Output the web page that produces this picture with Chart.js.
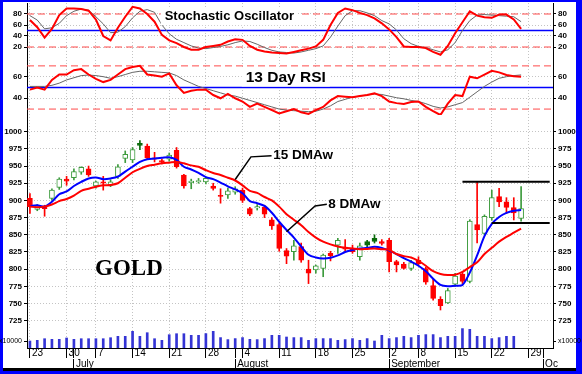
<!DOCTYPE html>
<html>
<head>
<meta charset="utf-8">
<title>Gold daily</title>
<script src="https://cdn.jsdelivr.net/npm/chart.js@4.4.0/dist/chart.umd.min.js"></script>
<style>
  html, body { margin: 0; padding: 0; background: #0000ff; }
  #wrap { width: 582px; height: 374px; }
</style>
</head>
<body>
<div id="wrap"><canvas id="gold" width="582" height="374"></canvas></div>
<script>
/* ─── Data (one entry per trading day, 23 Jun – 26 Sep) ─────────────────── */
const weekTickIdx    = [0, 5, 9, 14, 19, 24, 29, 34, 39, 44, 49, 53, 58, 63, 68];
const weekTickLabels = ['23', '30', '7', '14', '21', '28', '4', '11', '18', '25', '2', '8', '15', '22', '29'];
const monthTickIdx   = [6, 28, 49, 70];
const monthLabels    = ['July', 'August', 'September', 'Oc'];

const opens = [903, 887, 892, 903, 919, 931, 933, 941, 946, 921,
  927, 922, 935, 961, 959, 983, 979, 962, 958, 960,
  973, 937, 926, 927, 927, 921, 907, 908, 912, 915,
  888, 889, 890, 871.6, 865, 827, 825.5, 833, 800, 799,
  801, 823, 835, 832, 830, 818, 840, 845, 840, 842,
  811, 807.5, 801, 813, 801, 776, 756, 751, 778, 793,
  782, 865, 852, 875, 905.5, 898, 889.5, 874];
const highs = [910, 894, 893, 917, 933, 935, 946, 949, 950, 928,
  935, 930, 952, 972, 977, 987, 982, 970, 960, 969,
  977, 938, 931, 932, 934, 925, 917, 918, 920, 918,
  890, 894, 893, 875, 867, 830, 842, 838, 813, 806,
  822, 826, 845, 843, 835, 838, 842, 850, 843, 845,
  813, 810, 813, 818, 803, 786, 760, 772, 794, 796,
  872, 927, 879, 915, 917.6, 904, 904, 920];
const lows = [881, 885, 877, 900, 916, 922, 930, 938, 935, 918,
  915, 920, 932, 955, 955, 974, 960, 956, 953, 957,
  947, 918, 917, 925, 924, 915, 896, 903, 909, 897,
  878, 886, 875, 858, 826, 808, 813, 810, 779, 794,
  789, 812, 823, 825, 823, 813, 831, 838, 835, 796,
  796, 800, 798, 806, 778, 755, 740.6, 750, 775, 779,
  780, 838, 850, 871, 891, 881, 871.6, 870];
const closes = [891, 892, 888, 915, 931, 928, 942, 948, 937, 927,
  925, 927, 949, 967, 974, 980, 962, 960, 956, 966,
  949, 921, 928, 929, 932, 917.6, 906, 914, 917, 900,
  880, 891, 880, 863, 830, 819, 834, 813, 794, 805,
  820.6, 819.5, 842, 829, 825.5, 834, 835, 840.5, 837.6, 811,
  806, 801, 809.5, 807.5, 781, 757.6, 747, 768.7, 790, 782,
  870, 857, 877, 904, 898, 890, 882, 888];

const ma8 = [892, 893, 891, 898, 909, 913, 921, 927, 932, 933.5,
  931, 932, 934.6, 942, 949, 956, 960, 961, 962, 962.7,
  959, 949, 945, 940, 934, 931, 926, 920.5, 916, 910.5,
  899, 896, 892, 882, 869, 857, 846, 833, 821, 817,
  815.5, 816.5, 820, 825, 828, 830, 831, 832.5, 831, 827,
  822, 816, 811, 805, 797, 786, 777, 775, 776, 777,
  795, 820, 848, 866, 876, 882, 885, 886];
const ma15 = [891, 890, 891, 894, 899, 902, 907, 914, 917, 920,
  922, 922.5, 925, 933, 941, 946, 950, 952, 954, 955,
  956, 954, 951, 949, 944, 940, 937, 933, 929, 922,
  914, 911, 905, 900, 891, 880, 872, 864, 854, 846,
  840, 836, 833, 831, 830, 829, 829.5, 830, 829, 828,
  822, 819, 817, 812, 805, 797, 793, 791.5, 792, 796,
  803, 810, 822, 831, 840, 847, 853, 859];

const stochK = [69, 56, 37, 53, 78, 90, 90, 89, 86, 70,
  40, 32, 55, 75, 93, 90, 80, 66, 42, 32,
  27, 20, 15, 15, 20, 22, 24, 30, 34, 33,
  22, 15, 12, 10, 9, 8, 11, 14, 17, 21,
  33, 60, 82, 90, 87, 82, 78, 72, 63, 52,
  38, 21, 20, 20, 18, 11, 6, 22, 45, 65,
  85, 77, 74, 73, 79, 79, 70, 53];
const stochD = [77, 69, 53, 55, 63, 77, 85, 89, 87, 75,
  62, 46, 47, 57, 73, 85, 88, 83, 60, 44,
  34, 28, 22, 18, 17, 19, 21, 24, 28, 31,
  30, 25, 19, 14, 11, 10, 9, 11, 14, 17,
  22, 38, 58, 77, 86, 86, 82, 77, 68, 62,
  51, 35, 26, 21, 19, 15, 11, 15, 28, 50,
  68, 78, 79, 78, 77, 76, 75, 66];

const rsi = [48, 50, 48, 57, 62, 62, 66, 67, 62, 58,
  55, 57, 62, 67, 69, 70, 62, 61, 60, 63,
  52, 45, 47, 48, 48, 43, 40, 44, 40, 37,
  32, 35, 32, 29, 26, 28, 30, 27, 25.5, 29,
  32, 38, 42, 41.5, 41, 42, 43, 44.5, 42, 37,
  35.5, 34.7, 36.5, 37, 32, 28, 24.5, 35, 43, 42,
  60, 58.5, 62, 65.5, 64, 61.6, 60.5, 60];
const rsiSignal = [51, 51, 51, 52, 54, 57, 59, 61, 61.5, 61,
  60, 58.5, 60, 62, 64, 65, 65, 64.5, 64, 63.5,
  61, 57, 54, 51, 49, 47, 45, 43, 42, 40,
  38, 36, 34, 32, 30, 29, 28.5, 28, 27.6, 28,
  30, 33, 37, 39, 41, 42, 43, 44, 43.5, 42,
  40.5, 39.5, 38, 37, 35, 32.5, 31, 32, 34, 36,
  41, 46, 51, 55, 58.5, 60, 61, 61.6];

const volume = [70, 77, 93, 87, 87, 100, 87, 93, 93, 93,
  93, 103, 117, 117, 167, 117, 153, 93, 77, 133,
  143, 143, 127, 127, 144, 167, 104, 84, 94, 104,
  87, 84, 94, 127, 127, 110, 104, 104, 77, 94,
  94, 94, 77, 84, 94, 77, 94, 70, 127, 94,
  104, 117, 104, 127, 134, 134, 104, 117, 117, 194,
  187, 117, 117, 94, 104, 117, 117, null];

const stochLevels = [80, 20];
const rsiLevels   = [70, 30];
const midLevel    = 50;
const stochTicks  = [20, 40, 60, 80];
const rsiTicks    = [40, 60];
const priceTicks  = [725, 750, 775, 800, 825, 850, 875, 900, 925, 950, 975, 1000];
const volTicks    = [70];
const volTickLabel = 'x10000';

// price range lines drawn after the 15 Sep spike: [fromDay, toDay, price]
const rangeLines = [[59, 70.9, 927], [63, 70.9, 867]];

/* ─── Helpers ────────────────────────────────────────────────────────────── */
const X_MIN = -0.4;
const X_MAX = 71.35;
const FONT  = "'Liberation Sans', Arial, sans-serif";

const pts = arr => arr.map((v, i) => ({ x: i, y: v }));
const flat = (lvl) => [{ x: X_MIN, y: lvl }, { x: X_MAX, y: lvl }];
const fixedTicks = values => scale => { scale.ticks = values.map(v => ({ value: v })); };

// hollow green = close above open, dark green = lower close but above yesterday
function candleKind(i) {
  if (closes[i] >= opens[i]) return 'up';
  if (i > 0 && closes[i] > closes[i - 1]) return 'upFilled';
  return 'down';
}
const kinds = opens.map((_, i) => candleKind(i));
const lineColor = { up: '#3d9b3d', upFilled: '#0b6b0b', down: '#ff0000' };
const fillColor = { up: '#ffffff', upFilled: '#0b6b0b', down: '#ff0000' };

function yAxis(side, weight, stackWeight, min, max, ticks, opts = {}) {
  const left = side === 'left';
  return {
    type: 'linear',
    position: side,
    stack: side,
    stackWeight,
    weight,
    min, max,
    afterBuildTicks: fixedTicks(ticks),
    // fixed gutter widths; no label overhang pushing the plot down
    afterFit: s => {
      s.width = left ? 27 : 29;
      s.paddingTop = 0;
      s.paddingBottom = 0;
    },
    border: { color: '#000', dash: [1, 2] },
    grid: {
      color: '#c4c4c4',
      drawOnChartArea: left && opts.grid !== false,
      tickLength: 3,
      tickColor: '#000',
    },
    ticks: {
      autoSkip: false,
      padding: 2,
      color: '#000',
      font: opts.font || { family: FONT, size: 8, weight: 'bold' },
      callback: opts.callback || (v => v),
    },
  };
}

/* ─── Annotations: titles, labels, leader lines ──────────────────────────── */
const notes = [
  { text: 'Stochastic Oscillator', x: 27.2, y: 76, axis: 'ys', align: 'center', font: `bold 13px ${FONT}`, box: 18 },
  { text: '13 Day RSI', x: 34.9, y: 59.3, axis: 'yr', align: 'center', font: `bold 15.5px ${FONT}`, box: 18 },
  { text: '15 DMAw', x: 33.2, y: 966, axis: 'yp', align: 'left', font: `bold 13.5px ${FONT}` },
  { text: '8 DMAw', x: 40.7, y: 894, axis: 'yp', align: 'left', font: `bold 13.5px ${FONT}` },
  { text: 'GOLD', x: 13.5, y: 800, axis: 'yp', align: 'center', font: "bold 23px 'Liberation Serif', 'Times New Roman', serif" },
];
const leaders = [
  [[32.96, 964.9], [30.15, 963.4], [28, 930.5]],
  [[40.5, 894.4], [38.9, 892], [35.0, 854.5]],
];

const frame = {
  id: 'frame',
  beforeDraw(chart) {
    const { ctx, width, height } = chart;
    ctx.save();
    ctx.fillStyle = '#0000ff';
    ctx.fillRect(0, 0, width, height);
    ctx.fillStyle = '#ffffff';
    ctx.fillRect(3, 2, width - 9, height - 6);
    ctx.fillStyle = '#000000';
    ctx.fillRect(3, height - 6, width - 9, 3);
    ctx.restore();
  },
};

const chartNotes = {
  id: 'chartNotes',
  afterDatasetsDraw(chart) {
    const { ctx, scales } = chart;
    const xs = scales.x;
    ctx.save();
    ctx.strokeStyle = '#000';
    ctx.lineWidth = 1.5;
    leaders.forEach(line => {
      ctx.beginPath();
      line.forEach(([i, v], k) => {
        const px = xs.getPixelForValue(i);
        const py = scales.yp.getPixelForValue(v);
        if (k) ctx.lineTo(px, py); else ctx.moveTo(px, py);
      });
      ctx.stroke();
    });
    notes.forEach(n => {
      ctx.font = n.font;
      ctx.textAlign = n.align;
      ctx.textBaseline = 'middle';
      const px = xs.getPixelForValue(n.x);
      const py = scales[n.axis].getPixelForValue(n.y);
      if (n.box) {
        const w = ctx.measureText(n.text).width;
        const left = n.align === 'center' ? px - w / 2 : px;
        ctx.fillStyle = '#fff';
        ctx.fillRect(left - 4, py - n.box / 2, w + 8, n.box);
      }
      ctx.fillStyle = '#000';
      ctx.fillText(n.text, px, py);
    });
    ctx.restore();
  },
};

/* ─── Datasets ───────────────────────────────────────────────────────────── */
const refLine = (axis, lvl, color, dash, width) => ({
  type: 'line', yAxisID: axis, xAxisID: 'x', data: flat(lvl),
  borderColor: color, borderWidth: width, borderDash: dash,
  pointRadius: 0, order: 10,
});

const datasets = [
  ...stochLevels.map(l => refLine('ys', l, '#ff4a4a', [7, 4], 1)),
  refLine('ys', midLevel, '#0000ff', [], 1.5),
  ...rsiLevels.map(l => refLine('yr', l, '#ff4a4a', [7, 4], 1)),
  refLine('yr', midLevel, '#0000ff', [], 1.5),
  {
    type: 'bar', yAxisID: 'yv', xAxisID: 'x', grouped: false,
    data: pts(volume), backgroundColor: '#3434d4', barThickness: 2, order: 9,
  },
  {
    type: 'bar', yAxisID: 'yp', xAxisID: 'x', grouped: false,
    data: lows.map((l, i) => ({ x: i, y: [l, highs[i]] })),
    backgroundColor: kinds.map(k => lineColor[k]),
    barThickness: 1, borderSkipped: false, order: 8,
  },
  {
    type: 'bar', yAxisID: 'yp', xAxisID: 'x', grouped: false,
    data: opens.map((o, i) => ({ x: i, y: [o, closes[i]] })),
    backgroundColor: kinds.map(k => fillColor[k]),
    borderColor: kinds.map(k => lineColor[k]),
    borderWidth: 1, borderSkipped: false, minBarLength: 1,
    barThickness: 5, order: 7,
  },
  {
    type: 'line', yAxisID: 'yp', xAxisID: 'x', data: pts(ma15),
    borderColor: '#ff0000', borderWidth: 2, pointRadius: 0, tension: 0.3, order: 2,
  },
  {
    type: 'line', yAxisID: 'yp', xAxisID: 'x', data: pts(ma8),
    borderColor: '#0000ff', borderWidth: 2, pointRadius: 0, tension: 0.3, order: 2,
  },
  {
    type: 'line', yAxisID: 'ys', xAxisID: 'x', data: pts(stochD),
    borderColor: '#666666', borderWidth: 1, pointRadius: 0, order: 3,
  },
  {
    type: 'line', yAxisID: 'ys', xAxisID: 'x', data: pts(stochK),
    borderColor: '#ff0000', borderWidth: 2, pointRadius: 0, order: 2,
  },
  {
    type: 'line', yAxisID: 'yr', xAxisID: 'x', data: pts(rsiSignal),
    borderColor: '#666666', borderWidth: 1, pointRadius: 0, order: 3,
  },
  {
    type: 'line', yAxisID: 'yr', xAxisID: 'x', data: pts(rsi),
    borderColor: '#ff0000', borderWidth: 2, pointRadius: 0, order: 2,
  },
  ...rangeLines.map(([from, to, p]) => ({
    type: 'line', yAxisID: 'yp', xAxisID: 'x',
    data: [{ x: from, y: p }, { x: to, y: p }],
    borderColor: '#000', borderWidth: 2, pointRadius: 0, order: 1,
  })),
];

/* ─── Scales ─────────────────────────────────────────────────────────────── */
const monthOnly = v => monthTickIdx.includes(v) && !weekTickIdx.includes(v);
const dateTicks = [...new Set([...weekTickIdx, ...monthTickIdx])].sort((a, b) => a - b);
const volFont = { family: FONT, size: 7 };

const scales = {
  x: {
    type: 'linear', position: 'bottom', weight: 0, offset: false,
    min: X_MIN, max: X_MAX,
    afterBuildTicks: fixedTicks(dateTicks),
    afterFit: s => { s.height = 11; },
    border: { color: '#000', dash: [1, 2] },
    grid: {
      offset: false,
      color: c => (c.tick && monthOnly(c.tick.value)) ? 'rgba(0,0,0,0)' : '#c4c4c4',
      tickColor: '#000',
      tickLength: 10,
    },
    ticks: {
      autoSkip: false, maxRotation: 0, align: 'start', labelOffset: 2, padding: -11,
      color: '#000', font: { family: FONT, size: 10 },
      callback: v => {
        const k = weekTickIdx.indexOf(v);
        return k >= 0 ? weekTickLabels[k] : '';
      },
    },
  },
  xm: {
    type: 'linear', position: 'bottom', weight: 1, offset: false,
    min: X_MIN, max: X_MAX,
    afterBuildTicks: fixedTicks(monthTickIdx),
    afterFit: s => { s.height = 15; },
    border: { display: false },
    grid: { offset: false, drawOnChartArea: false, tickColor: '#000', tickLength: 10 },
    ticks: {
      autoSkip: false, maxRotation: 0, align: 'start', labelOffset: 2, padding: -10.5,
      color: '#000', font: { family: FONT, size: 10 },
      callback: v => monthLabels[monthTickIdx.indexOf(v)],
    },
  },
  ys:  yAxis('left', 4, 55, 0, 100, stochTicks),
  yr:  yAxis('left', 3, 57, 24.5, 77.3, rsiTicks),
  yp:  yAxis('left', 2, 211, 717.3, 1024.3, priceTicks),
  yv:  yAxis('left', 1, 22, 0, 220, volTicks, { grid: false, font: volFont, callback: () => volTickLabel }),
  ysR: yAxis('right', 1, 55, 0, 100, stochTicks),
  yrR: yAxis('right', 2, 57, 24.5, 77.3, rsiTicks),
  ypR: yAxis('right', 3, 211, 717.3, 1024.3, priceTicks),
  yvR: yAxis('right', 4, 22, 0, 220, volTicks, { font: volFont, callback: () => volTickLabel }),
};

/* ─── Chart ──────────────────────────────────────────────────────────────── */
new Chart(document.getElementById('gold'), {
  data: { datasets },
  options: {
    responsive: false,
    devicePixelRatio: 1,
    animation: false,
    events: [],
    layout: { padding: { top: 3, left: 0, right: 0, bottom: 0 } },
    plugins: { legend: { display: false }, tooltip: { enabled: false } },
    scales,
  },
  plugins: [frame, chartNotes],
});
</script>
</body>
</html>
